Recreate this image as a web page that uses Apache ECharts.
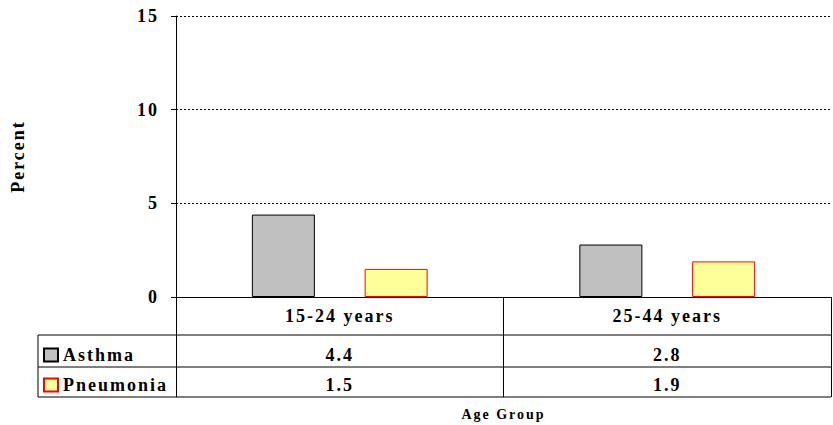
<!DOCTYPE html>
<html>
<head>
<meta charset="utf-8">
<script src="https://cdn.jsdelivr.net/npm/echarts@6/dist/echarts.min.js"></script>
<style>
  html, body { margin: 0; padding: 0; background: #fff; }
  #chart { width: 833px; height: 425px; letter-spacing: 2px; }
</style>
</head>
<body>
<div id="chart"></div>
<script>
var categories = ['15-24 years', '25-44 years'];
var asthma = [4.4, 2.8];
var pneumonia = [1.5, 1.9];
var yTicks = [0, 5, 10, 15];

var font = 'Liberation Serif';
var chart = echarts.init(document.getElementById('chart'), null, { renderer: 'svg' });

function valueAxis(values, offset, margin) {
  return {
    type: 'category',
    position: 'bottom',
    gridIndex: 0,
    offset: offset,
    data: categories,
    axisLine: { show: false },
    axisTick: { show: false },
    axisLabel: {
      margin: margin,
      color: '#000',
      fontFamily: font,
      fontWeight: 'bold',
      fontSize: 18,
      formatter: function(v, i) {
        return values[i].toFixed(1);
      }
    }
  };
}

var tableLine = { stroke: '#000', lineWidth: 1 };

var option = {
  backgroundColor: '#fff',
  animation: false,
  grid: { left: 176, right: 2, top: 16, bottom: 128, outerBoundsMode: 'none' },
  legend: {
    orient: 'vertical',
    left: 43,
    top: 346,
    padding: 0,
    itemWidth: 14,
    itemHeight: 13,
    itemGap: 12,
    icon: 'rect',
    textStyle: { color: '#000', fontFamily: font, fontWeight: 'bold', fontSize: 18 },
    data: ['Asthma', 'Pneumonia']
  },
  xAxis: [{
    type: 'category',
    position: 'bottom',
    data: categories,
    name: 'Age Group',
    nameLocation: 'middle',
    nameGap: 110,
    nameMoveOverlap: false,
    nameTextStyle: { color: '#000', fontFamily: font, fontWeight: 'bold', fontSize: 14 },
    axisLine: { lineStyle: { color: '#000', width: 1 } },
    axisTick: { show: true, alignWithLabel: false, interval: 0, length: 100, lineStyle: { color: '#000' } },
    axisLabel: { margin: 10, color: '#000', fontFamily: font, fontWeight: 'bold', fontSize: 18, interval: 0 }
  },
  valueAxis(asthma, 38, 11),
  valueAxis(pneumonia, 70, 9)
  ],
  yAxis: {
    type: 'value',
    min: yTicks[0],
    max: yTicks[yTicks.length - 1],
    interval: 5,
    name: 'Percent',
    nameLocation: 'middle',
    nameRotate: 90,
    nameGap: 149,
    nameTextStyle: { color: '#000', fontFamily: font, fontWeight: 'bold', fontSize: 18 },
    axisLine: { show: true, lineStyle: { color: '#000', width: 1 } },
    axisTick: { show: true, length: 5, lineStyle: { color: '#000' } },
    axisLabel: { margin: 17, color: '#000', fontFamily: font, fontWeight: 'bold', fontSize: 18 },
    splitLine: { show: true, lineStyle: { color: '#000', width: 1, type: [2, 2] } }
  },
  series: [{
    name: 'Asthma',
    type: 'bar',
    data: asthma,
    barWidth: 63,
    barGap: '79%',
    itemStyle: { color: '#C0C0C0', borderColor: '#000', borderWidth: 1 }
  }, {
    name: 'Pneumonia',
    type: 'bar',
    data: pneumonia,
    barWidth: 63,
    itemStyle: { color: '#FFFF99', borderColor: '#FF0000', borderWidth: 1 }
  }],
  graphic: [
    { type: 'line', shape: { x1: 38, y1: 335, x2: 831, y2: 335 }, style: tableLine, silent: true },
    { type: 'line', shape: { x1: 38, y1: 367, x2: 831, y2: 367 }, style: tableLine, silent: true },
    { type: 'line', shape: { x1: 38, y1: 397, x2: 831, y2: 397 }, style: tableLine, silent: true },
    { type: 'line', shape: { x1: 38, y1: 335, x2: 38, y2: 397 }, style: tableLine, silent: true }
  ]
};

chart.setOption(option);
</script>
</body>
</html>
